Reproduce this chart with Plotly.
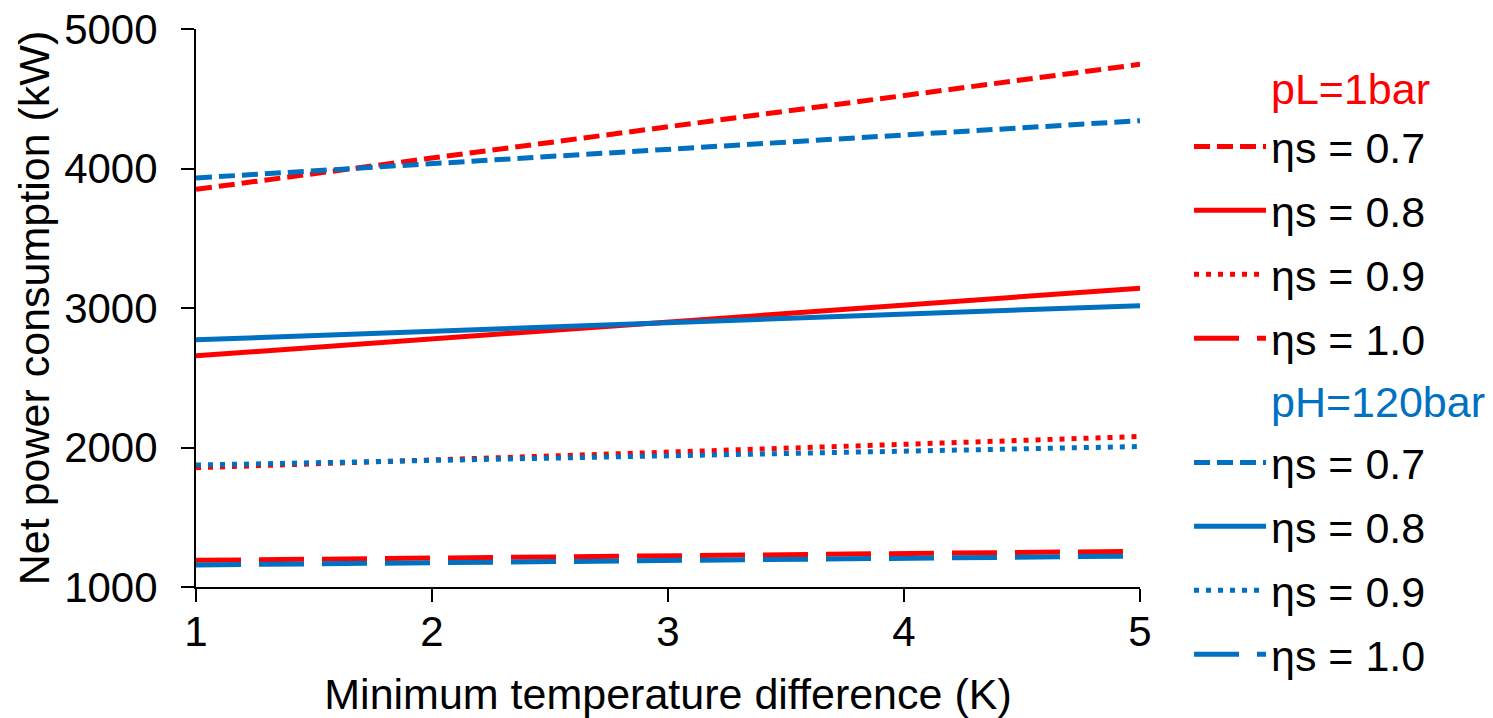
import plotly.graph_objects as go

# ---- data ----
dT = [1, 2, 3, 4, 5]
eta_labels = ["ηs = 0.7", "ηs = 0.8", "ηs = 0.9", "ηs = 1.0"]

pL_eta07 = [3851, 4075, 4300, 4523, 4747]
pL_eta08 = [2657, 2778, 2900, 3021, 3142]
pL_eta09 = [1855, 1911, 1967, 2023, 2079]
pL_eta10 = [1191, 1207, 1223, 1240, 1256]

pH_eta07 = [3932, 4035, 4137, 4240, 4343]
pH_eta08 = [2772, 2833, 2895, 2956, 3017]
pH_eta09 = [1874, 1907, 1940, 1974, 2007]
pH_eta10 = [1158, 1174, 1190, 1206, 1222]

y_ticks = [1000, 2000, 3000, 4000, 5000]
group_titles = ["pL=1bar", "pH=120bar"]

RED = "#FF0000"
BLUE = "#0070C0"
FONT = "Liberation Sans, Arial, sans-serif"
FS_TICK = 42
FS_TITLE = 43
FS_LEG = 43
dashes = ["16px,7px", "solid", "5px,7px", "45px,18px"]

fig = go.Figure()

for i, (series, name, dash) in enumerate(zip([pL_eta07, pL_eta08, pL_eta09, pL_eta10], eta_labels, dashes)):
    fig.add_trace(go.Scatter(x=dT, y=series, mode="lines", name=name,
                             line=dict(color=RED, width=5, dash=dash),
                             legend="legend", legendgroup=f"pL{i}"))
for i, (series, name, dash) in enumerate(zip([pH_eta07, pH_eta08, pH_eta09, pH_eta10], eta_labels, dashes)):
    fig.add_trace(go.Scatter(x=dT, y=series, mode="lines", name=name,
                             line=dict(color=BLUE, width=5, dash=dash),
                             legend="legend2", legendgroup=f"pH{i}"))

legend_common = dict(
    font=dict(family=FONT, size=FS_LEG, color="black"),
    itemwidth=72,
    bgcolor="rgba(0,0,0,0)",
    xref="container", yref="container",
    xanchor="left", yanchor="top",
    tracegroupgap=5,
)

# plot area: x 196..1140 px, y 29..587 px
fig.update_layout(
    width=1493, height=718, autosize=False,
    margin=dict(l=196, r=353, t=29, b=131),
    paper_bgcolor="white", plot_bgcolor="white",
    font=dict(family=FONT, size=FS_TICK, color="black"),
    xaxis=dict(
        range=[1, 5], tickvals=dT, ticktext=[str(v) for v in dT],
        showline=True, linecolor="black", linewidth=2,
        ticks="outside", ticklen=13, tickwidth=2, tickcolor="black",
        showgrid=False, zeroline=False,
        tickfont=dict(family=FONT, size=FS_TICK, color="black"),
        ticklabelstandoff=-6,
        title=dict(text="Minimum temperature difference (K)",
                   font=dict(family=FONT, size=FS_TITLE, color="black"), standoff=24),
        automargin=False,
    ),
    yaxis=dict(
        range=[1000, 5000], tickvals=y_ticks, ticktext=[str(v) for v in y_ticks],
        showline=True, linecolor="black", linewidth=2,
        ticks="outside", ticklen=13, tickwidth=2, tickcolor="black",
        showgrid=False, zeroline=False,
        tickfont=dict(family=FONT, size=FS_TICK, color="black"),
        ticklabelstandoff=15,
        title=dict(text="Net power consumption (kW)",
                   font=dict(family=FONT, size=FS_TITLE, color="black"), standoff=1),
        automargin=False,
    ),
    legend=dict(**legend_common, x=1189 / 1493, y=1 - 112 / 718),
    legend2=dict(**legend_common, x=1189 / 1493, y=1 - 428 / 718),
    showlegend=True,
    annotations=[
        dict(text=group_titles[0], xref="paper", yref="paper",
             x=(1269 - 196) / 944, y=(587 - 89) / 558, xanchor="left", yanchor="middle",
             showarrow=False, font=dict(family=FONT, size=FS_LEG, color=RED)),
        dict(text=group_titles[1], xref="paper", yref="paper",
             x=(1269 - 196) / 944, y=(587 - 402) / 558, xanchor="left", yanchor="middle",
             showarrow=False, font=dict(family=FONT, size=FS_LEG, color=BLUE)),
    ],
)

fig.write_html("out.html", config={"displayModeBar": False},
               post_script="document.body.style.margin='0';")
